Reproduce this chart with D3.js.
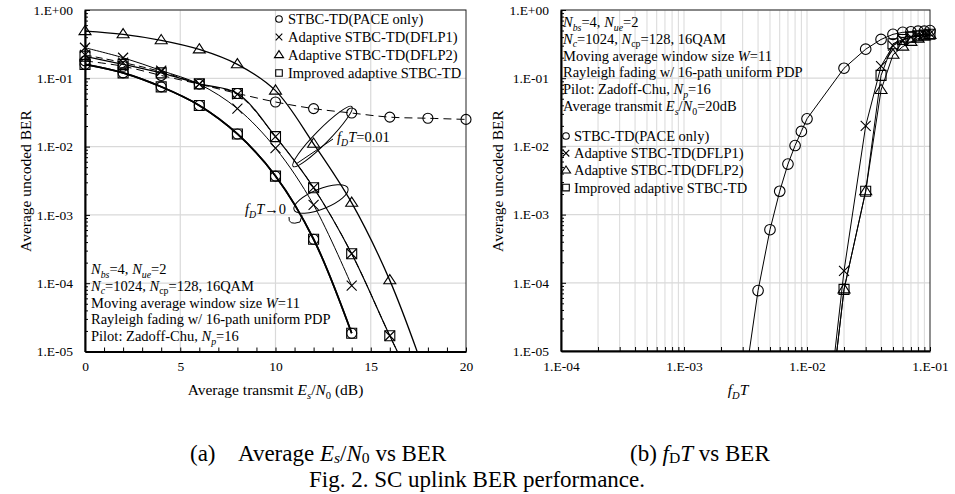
<!DOCTYPE html>
<html>
<head>
<meta charset="utf-8">
<script src="https://cdn.jsdelivr.net/npm/d3@7"></script>
<style>
  body { margin: 0; background: #fff; }
  svg { font-family: "Liberation Serif", "Times New Roman", serif; }
</style>
</head>
<body>
<svg id="fig" width="955" height="494"></svg>
<script>
// ---- data, (a) Es/N0 vs BER ----
const snrLow = [0, 2, 4, 6, 8, 10, 12, 14];
const berPace0 = [0.16, 0.12, 0.075, 0.040, 0.0153, 0.0037, 0.00044, 1.85e-5];
const berImp0 = [0.16, 0.12, 0.075, 0.040, 0.0153, 0.0037, 0.00044, 1.85e-5];
const snrBox = [0, 2, 4, 6, 8, 10, 12, 14, 16, 18];
const berImp1 = [0.21, 0.16, 0.12, 0.083, 0.06, 0.014, 0.0025, 2.7e-4, 1.7e-5, 1.2e-6];
const berDflp1_1 = [0.22, 0.17, 0.125, 0.083, 0.058, 0.014, 0.0025, 2.7e-4, 1.7e-5, 1.2e-6];
const snrX = [0, 2, 4, 6, 8, 10, 12, 14];
const berDflp1_0 = [0.28, 0.2, 0.13, 0.082, 0.036, 0.0095, 0.0014, 9.2e-5];
const snrTri = [0, 2, 4, 6, 8, 10, 12, 14, 16, 18];
const berDflp2 = [0.49, 0.44, 0.36, 0.265, 0.16, 0.066, 0.011, 0.0015, 1.1e-4, 3.6e-6];
const snrPace1 = [0, 2, 4, 6, 8, 10, 12, 14, 16, 18, 20];
const berPace1 = [0.18, 0.15, 0.11, 0.082, 0.06, 0.045, 0.036, 0.031, 0.027, 0.026, 0.025];

// ---- data, (b) fDT vs BER ----
const fdtPace = [0.003, 0.004, 0.005, 0.006, 0.007, 0.008, 0.009, 0.01, 0.02, 0.03, 0.04, 0.05, 0.06, 0.07, 0.08, 0.09, 0.1];
const berPaceB = [2.1e-6, 7.7e-5, 6e-4, 0.0022, 0.0055, 0.0103, 0.0166, 0.0254, 0.14, 0.266, 0.37, 0.44, 0.47, 0.48, 0.49, 0.49, 0.5];
const fdtAdapt = [0.01, 0.02, 0.03, 0.04, 0.05, 0.06, 0.07, 0.08, 0.09, 0.1];
const berDflp1B = [2.3e-9, 1.5e-4, 0.02, 0.15, 0.3, 0.36, 0.4, 0.42, 0.44, 0.45];
const berDflp2B = [1.7e-9, 8e-5, 0.0022, 0.067, 0.22, 0.29, 0.34, 0.38, 0.41, 0.43];
const berImpB = [1.7e-9, 8e-5, 0.0022, 0.11, 0.32, 0.37, 0.4, 0.42, 0.43, 0.44];

// ---- labels ----
const legendNames = ["STBC-TD(PACE only)", "Adaptive STBC-TD(DFLP1)", "Adaptive STBC-TD(DFLP2)", "Improved adaptive STBC-TD"];
const legendMarks = ["circle", "x", "triangle", "square"];
const paramLines = [
  [["N", "i"], ["bs", "si"], ["=4, "], ["N", "i"], ["ue", "si"], ["=2"]],
  [["N", "i"], ["c", "si"], ["=1024, "], ["N", "i"], ["cp", "s"], ["=128, 16QAM"]],
  [["Moving average window size "], ["W", "i"], ["=11"]],
  [["Rayleigh fading w/ 16-path uniform PDP"]],
  [["Pilot: Zadoff-Chu, "], ["N", "i"], ["p", "si"], ["=16"]]
];
const extraLine = [["Average transmit "], ["E", "i"], ["s", "si"], ["/"], ["N", "i"], ["0", "s"], ["=20dB"]];

const svg = d3.select("#fig");
const grid = "#d9d9d9";

function rich(sel, parts, size, drop) {
  let shift = 0;
  const k = drop || 0.25;
  parts.forEach(([s, st]) => {
    const sub = st && st.includes("s");
    const ts = sel.append("tspan").text(s);
    const want = sub ? size * k : 0;
    if (want !== shift) { ts.attr("dy", want - shift); shift = want; }
    if (st && st.includes("i")) ts.attr("font-style", "italic");
    if (sub) ts.attr("font-size", size * 0.68);
  });
}

function marker(g, type, cx, cy, s) {
  let d;
  if (type === "circle") {
    g.append("circle").attr("cx", cx).attr("cy", cy).attr("r", s)
      .attr("fill", "none").attr("stroke", "#000").attr("stroke-width", 1.1);
    return;
  }
  if (type === "square") d = `M${cx - s},${cy - s}h${2 * s}v${2 * s}h${-2 * s}Z`;
  if (type === "x") d = `M${cx - s},${cy - s}L${cx + s},${cy + s}M${cx - s},${cy + s}L${cx + s},${cy - s}`;
  if (type === "triangle") {
    const h = s * 1.15;
    d = `M${cx},${cy - h}L${cx + s * 1.2},${cy + h * 0.6}L${cx - s * 1.2},${cy + h * 0.6}Z`;
  }
  g.append("path").attr("d", d).attr("fill", "none").attr("stroke", "#000").attr("stroke-width", 1.1);
}

function series(g, clip, x, y, xs, ys, o) {
  const pts = xs.map((v, i) => [v, ys[i]]);
  const line = d3.line().x(d => x(d[0])).y(d => y(d[1])).curve(o.curve || d3.curveLinear);
  g.append("path").attr("clip-path", clip).attr("d", line(pts))
    .attr("fill", "none").attr("stroke", "#000").attr("stroke-width", o.w || 1)
    .attr("stroke-dasharray", o.dash || null);
  pts.filter(d => d[1] >= 1e-5).forEach(d => marker(g, o.mark, x(d[0]), y(d[1]), o.size || 5));
}

const fmtE = d => "1.E" + (d >= 1 ? "+00" : "-" + String(Math.round(-Math.log10(d))).padStart(2, "0"));
const isDecade = d => Math.abs(Math.log10(d) - Math.round(Math.log10(d))) < 1e-9;

// ================= (a) =================
const xL = d3.scaleLinear([0, 20], [85, 466]);
const yL = d3.scaleLog([1e-5, 1], [351.5, 10]);
const gA = svg.append("g");
svg.append("clipPath").attr("id", "clipA").append("rect")
  .attr("x", 85).attr("y", 10).attr("width", 381).attr("height", 341.5);

gA.selectAll(".gx").data([5, 10, 15]).join("line")
  .attr("x1", d => xL(d)).attr("x2", d => xL(d)).attr("y1", 10).attr("y2", 351.5)
  .attr("stroke", grid).attr("stroke-width", 1.2);
gA.selectAll(".gy").data(yL.ticks().filter(isDecade)).join("line")
  .attr("x1", 85).attr("x2", 466).attr("y1", d => yL(d)).attr("y2", d => yL(d))
  .attr("stroke", grid).attr("stroke-width", 1.2);
gA.append("rect").attr("x", 85).attr("y", 10).attr("width", 381).attr("height", 341.5)
  .attr("fill", "none").attr("stroke", "#222").attr("stroke-width", 1);

const axYA = gA.append("g").attr("transform", "translate(85,0)")
  .call(d3.axisLeft(yL).tickSizeInner(-3).tickSizeOuter(0).tickPadding(12).tickFormat(d => isDecade(d) ? fmtE(d) : ""));
const axXA = gA.append("g").attr("transform", "translate(0,351.5)")
  .call(d3.axisBottom(xL).tickValues(d3.range(0, 21, 1)).tickSizeInner(-4).tickSizeOuter(0).tickPadding(10).tickFormat(d => d % 5 === 0 ? d : ""));

// series
series(gA, "url(#clipA)", xL, yL, snrPace1, berPace1, { mark: "circle", dash: "8,5", w: 1, curve: d3.curveCatmullRom });
series(gA, "url(#clipA)", xL, yL, snrTri, berDflp2, { mark: "triangle", w: 1.3, curve: d3.curveCatmullRom });
series(gA, "url(#clipA)", xL, yL, snrBox, berImp1, { mark: "square", w: 1.2, curve: d3.curveCatmullRom });
series(gA, "url(#clipA)", xL, yL, snrBox, berDflp1_1, { mark: "x", dash: "7,4", w: 1, curve: d3.curveCatmullRom });
series(gA, "url(#clipA)", xL, yL, snrX, berDflp1_0, { mark: "x", w: 1, curve: d3.curveCatmullRom });
series(gA, "url(#clipA)", xL, yL, snrLow, berPace0, { mark: "circle", w: 1.7, curve: d3.curveCatmullRom });
series(gA, "url(#clipA)", xL, yL, snrLow, berImp0, { mark: "square", w: 1.7, curve: d3.curveCatmullRom });

// legend (a)
legendNames.forEach((n, i) => {
  const cy = 19 + i * 18;
  marker(gA, legendMarks[i], 279, cy, legendMarks[i] === "triangle" ? 3.8 : 3.3);
  gA.append("text").attr("x", 288).attr("y", cy + 5).attr("font-size", 14.5).text(n);
});
paramLines.forEach((p, i) => {
  rich(gA.append("text").attr("x", 91).attr("y", 274 + i * 16.8).attr("font-size", 14.5), p, 14.5);
});

// annotations
gA.append("ellipse").attr("cx", 0).attr("cy", 0).attr("rx", 42).attr("ry", 7)
  .attr("transform", "translate(322.5,136.5) rotate(-45.5)")
  .attr("fill", "none").attr("stroke", "#000").attr("stroke-width", 1);
gA.append("line").attr("x1", 333).attr("y1", 139).attr("x2", 296).attr("y2", 164)
  .attr("stroke", "#000").attr("stroke-width", 1);
rich(gA.append("text").attr("x", 337).attr("y", 142).attr("font-size", 14.5),
  [["f", "i"], ["D", "si"], ["T", "i"], ["=0.01"]], 14.5);
gA.append("ellipse").attr("cx", 0).attr("cy", 0).attr("rx", 29).attr("ry", 10)
  .attr("transform", "translate(321,199) rotate(-22)")
  .attr("fill", "none").attr("stroke", "#000").attr("stroke-width", 1);
gA.append("path").attr("d", "M289,217 Q288,226 300,222 L302,215")
  .attr("fill", "none").attr("stroke", "#000").attr("stroke-width", 1);
rich(gA.append("text").attr("x", 245).attr("y", 214).attr("font-size", 14.5),
  [["f", "i"], ["D", "si"], ["T", "i"], ["\u21920"]], 14.5);

gA.append("text").attr("transform", "translate(31,181) rotate(-90)").attr("text-anchor", "middle")
  .attr("font-size", 15.5).text("Average uncoded BER");
rich(gA.append("text").attr("x", 275.5).attr("y", 395).attr("text-anchor", "middle").attr("font-size", 15.5),
  [["Average transmit "], ["E", "i"], ["s", "si"], ["/"], ["N", "i"], ["0", "s"], [" (dB)"]], 15.5);

// ================= (b) =================
const xR = d3.scaleLog([1e-4, 1e-1], [561, 930]);
const yR = d3.scaleLog([1e-5, 1], [351, 10]);
const gB = svg.append("g");
svg.append("clipPath").attr("id", "clipB").append("rect")
  .attr("x", 561).attr("y", 10).attr("width", 369).attr("height", 341);

gB.selectAll(".gx").data(xR.ticks().filter(d => d > 1e-4 && d < 0.1)).join("line")
  .attr("x1", d => xR(d)).attr("x2", d => xR(d)).attr("y1", 10).attr("y2", 351)
  .attr("stroke", grid).attr("stroke-width", 1);
gB.selectAll(".gy").data(yR.ticks().filter(isDecade)).join("line")
  .attr("x1", 561).attr("x2", 930).attr("y1", d => yR(d)).attr("y2", d => yR(d))
  .attr("stroke", grid).attr("stroke-width", 1.2);
gB.append("rect").attr("x", 561).attr("y", 10).attr("width", 369).attr("height", 341)
  .attr("fill", "none").attr("stroke", "#222").attr("stroke-width", 1);

const axYB = gB.append("g").attr("transform", "translate(561,0)")
  .call(d3.axisLeft(yR).tickSizeInner(-3).tickSizeOuter(0).tickPadding(12).tickFormat(d => isDecade(d) ? fmtE(d) : ""));
const axXB = gB.append("g").attr("transform", "translate(0,351)")
  .call(d3.axisBottom(xR).tickSizeInner(-4).tickSizeOuter(0).tickPadding(10).tickFormat(d => isDecade(d) ? fmtE(d) : ""));

series(gB, "url(#clipB)", xR, yR, fdtPace, berPaceB, { mark: "circle", w: 1, size: 5.3 });
series(gB, "url(#clipB)", xR, yR, fdtAdapt, berDflp1B, { mark: "x", w: 1, size: 5 });
series(gB, "url(#clipB)", xR, yR, fdtAdapt, berDflp2B, { mark: "triangle", w: 1, size: 5 });
series(gB, "url(#clipB)", xR, yR, fdtAdapt, berImpB, { mark: "square", w: 1, size: 5 });

paramLines.concat([extraLine]).forEach((p, i) => {
  rich(gB.append("text").attr("x", 563).attr("y", 27 + i * 16.8).attr("font-size", 14.5), p, 14.5);
});
legendNames.forEach((n, i) => {
  const cy = 136 + i * 17.2;
  marker(gB, legendMarks[i], 566, cy, legendMarks[i] === "triangle" ? 3.8 : 3.3);
  gB.append("text").attr("x", 574).attr("y", cy + 5).attr("font-size", 14.5).text(n);
});

gB.append("text").attr("transform", "translate(503,181) rotate(-90)").attr("text-anchor", "middle")
  .attr("font-size", 15.5).text("Average uncoded BER");
rich(gB.append("text").attr("x", 738).attr("y", 395).attr("text-anchor", "middle").attr("font-size", 15.5),
  [["f", "i"], ["D", "si"], ["T", "i"]], 15.5);

// axis styling
[axYA, axXA, axYB, axXB].forEach(a => {
  a.select(".domain").attr("stroke", "#000").attr("stroke-width", 2);
  a.selectAll(".tick line").attr("stroke", "#000");
  a.selectAll(".tick text").attr("font-size", 13.5).attr("font-family", "Liberation Serif").attr("fill", "#000");
});
[axYA, axYB].forEach(a => a.selectAll(".tick").filter(d => isDecade(d)).select("line").attr("x2", 5));

// ================= captions =================
svg.append("text").attr("x", 190).attr("y", 461).attr("font-size", 23).text("(a)");
rich(svg.append("text").attr("x", 238).attr("y", 461).attr("font-size", 23),
  [["Average "], ["E", "i"], ["s", "si"], ["/"], ["N", "i"], ["0", "s"], [" vs BER"]], 23, 0.1);
rich(svg.append("text").attr("x", 630).attr("y", 461).attr("font-size", 23),
  [["(b) "], ["f", "i"], ["D", "s"], ["T", "i"], [" vs BER"]], 23, 0.1);
svg.append("text").attr("x", 477).attr("y", 487).attr("text-anchor", "middle").attr("font-size", 23)
  .text("Fig. 2. SC uplink BER performance.");
</script>
</body>
</html>
